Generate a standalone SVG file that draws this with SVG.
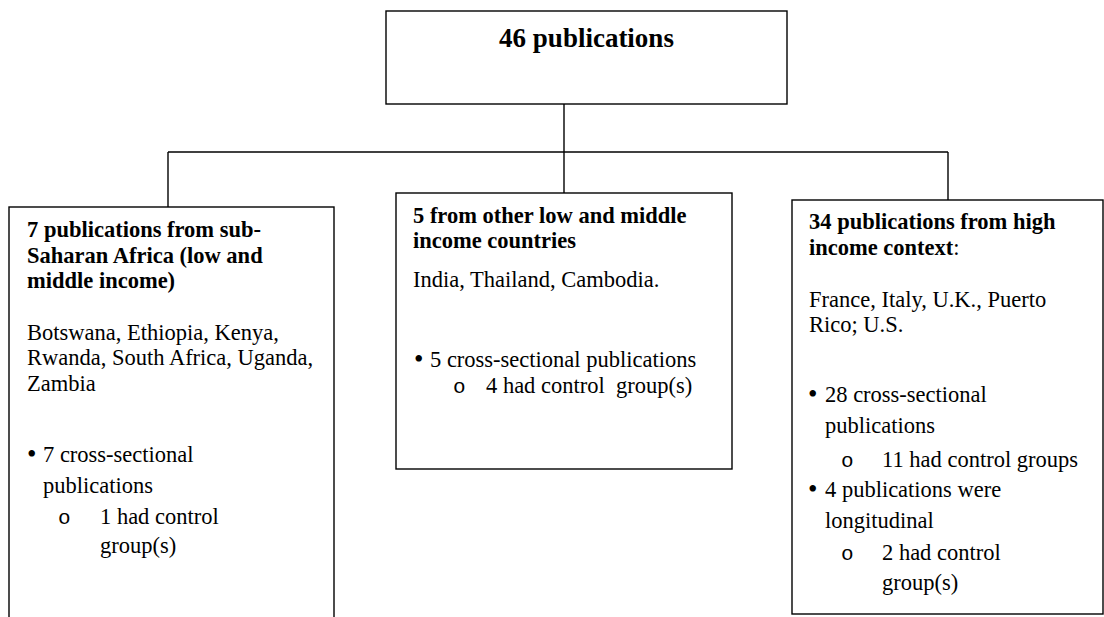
<svg xmlns="http://www.w3.org/2000/svg" width="1104" height="617" viewBox="0 0 1104 617">
<style>
.box{fill:#fff;stroke:#000;stroke-width:1.4}
.ln{stroke:#000;stroke-width:1.4;fill:none}
text{font-family:"Liberation Serif","Times New Roman",serif;font-size:22.5px;fill:#000}
.b{font-weight:bold}
.t{font-size:27px;font-weight:bold}
.u{font-size:27px}
.o{font-family:"Liberation Mono","Courier New",monospace;font-size:21px}
</style>
<rect width="1104" height="617" fill="#fff"/>
<g id="connectors">
<path class="ln" d="M564,104 V193"/>
<path class="ln" d="M168,152 H948"/>
<path class="ln" d="M168,152 V207"/>
<path class="ln" d="M948,152 V200"/>
</g>
<g id="root">
<rect class="box" x="386" y="11" width="401" height="93"/>
<text class="t" x="586.5" y="47" text-anchor="middle">46 publications</text>
</g>
<g id="ssa">
<rect class="box" x="9" y="207" width="325" height="430"/>
<text class="b" x="27" y="237">7 publications from sub-</text>
<text class="b" x="27" y="263">Saharan Africa (low and</text>
<text class="b" x="27" y="288">middle income)</text>
<text x="27" y="340">Botswana, Ethiopia, Kenya,</text>
<text x="27" y="365">Rwanda, South Africa, Uganda,</text>
<text x="27" y="391">Zambia</text>
<text class="u" x="27" y="463">•</text>
<text x="43" y="462">7 cross-sectional</text>
<text x="43" y="493">publications</text>
<text class="o" x="58" y="524">o</text>
<text x="100" y="524">1 had control</text>
<text x="100" y="553">group(s)</text>
</g>
<g id="lmic">
<rect class="box" x="396" y="193" width="336" height="276"/>
<text class="b" x="413" y="223">5 from other low and middle</text>
<text class="b" x="413" y="248">income countries</text>
<text x="413" y="287">India, Thailand, Cambodia.</text>
<text class="u" x="414" y="368">•</text>
<text x="430" y="367">5 cross-sectional publications</text>
<text class="o" x="453" y="393">o</text>
<text x="486" y="393" xml:space="preserve">4 had control  group(s)</text>
</g>
<g id="hic">
<rect class="box" x="792" y="200" width="311" height="414"/>
<text class="b" x="809" y="229">34 publications from high</text>
<text x="809" y="255"><tspan class="b">income context</tspan>:</text>
<text x="809" y="307">France, Italy, U.K., Puerto</text>
<text x="809" y="332">Rico; U.S.</text>
<text class="u" x="808" y="403">•</text>
<text x="825" y="402">28 cross-sectional</text>
<text x="825" y="433">publications</text>
<text class="o" x="841" y="467">o</text>
<text x="882" y="467">11 had control groups</text>
<text class="u" x="808" y="498">•</text>
<text x="825" y="497">4 publications were</text>
<text x="825" y="528">longitudinal</text>
<text class="o" x="841" y="560">o</text>
<text x="882" y="560">2 had control</text>
<text x="882" y="590">group(s)</text>
</g>
</svg>
